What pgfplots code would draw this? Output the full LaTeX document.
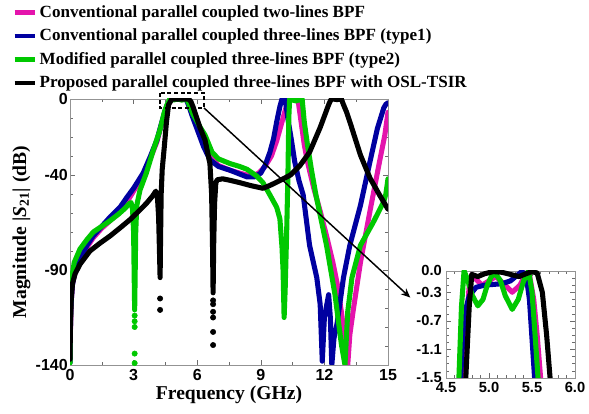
\documentclass[border=0pt]{standalone}
\usepackage{pgfplots}
\pgfplotsset{compat=1.18}
\usepackage{pgfplotstable}
\usetikzlibrary{arrows.meta}
\usepackage{fontspec}
\setmainfont{Liberation Serif}
\newfontfamily\tickfont{Liberation Sans}

\definecolor{cpink}{RGB}{228,20,172}
\definecolor{cblue}{RGB}{0,0,160}
\definecolor{cgreen}{RGB}{0,200,0}

% |S21| of the four filters: frequency (GHz), magnitude (dB)
\pgfplotstableread{
f db
0 -138
0.02 -122
0.06 -106
0.12 -97
0.25 -91
0.47 -85
0.8 -78
1.1 -73
1.5 -68
1.9 -64
2.36 -59
2.7 -54
3.0 -48.5
3.45 -40
3.8 -31
4.1 -22.5
4.3 -14
4.5 -6
4.62 -3
4.71 -1.5
4.74 -0.7
4.77 -0.2
4.8 -0.05
4.85 -0.12
4.92 -0.2
5.0 -0.14
5.08 -0.08
5.17 -0.18
5.27 -0.3
5.36 -0.2
5.43 -0.03
5.47 -0.05
5.52 -0.4
5.56 -0.9
5.6 -1.5
5.7 -3.5
5.85 -8
6.1 -15
6.4 -24
6.7 -31
7.0 -35
7.55 -37.5
8.0 -39
8.35 -40
8.6 -40.5
8.9 -39
9.2 -35.5
9.5 -30
9.75 -22
9.95 -14
10.15 -6
10.3 -1
10.4 0
10.6 -0.5
10.75 0
10.9 -12
11.05 -24
11.2 -33
11.5 -47
11.8 -59
12.1 -72
12.4 -86
12.6 -97
12.8 -112
12.95 -125
13.1 -140
13.2 -124
13.35 -112
13.7 -86
14.15 -59
14.6 -33
14.85 -19
15 -7
}\twolines

\pgfplotstableread{
f db
0 -139
0.01 -126
0.04 -110
0.1 -99
0.2 -92
0.47 -84
0.8 -77
1.1 -72
1.5 -67
1.9 -62
2.36 -57
2.7 -51.5
3.0 -47
3.45 -39
3.8 -30
4.1 -21.6
4.3 -13.5
4.5 -5.5
4.6 -2.8
4.67 -1.5
4.71 -0.63
4.77 -0.35
4.85 -0.23
4.95 -0.2
5.05 -0.19
5.15 -0.18
5.25 -0.14
5.32 -0.07
5.38 -0.01
5.43 -0.05
5.47 -0.4
5.5 -0.95
5.53 -1.5
5.6 -3.5
5.75 -8.5
6.0 -16
6.3 -25
6.6 -32
7.0 -35.5
7.55 -37.5
8.0 -39.5
8.35 -41
8.7 -41
9.0 -39
9.2 -35
9.43 -28
9.6 -21
9.75 -12
9.9 -4
10.0 0
10.15 0
10.3 -12
10.45 -22
10.6 -33
10.8 -43
11.0 -50.5
11.3 -77
11.64 -94
11.8 -108
11.9 -138
12.0 -115
12.2 -103
12.28 -115
12.35 -140
12.45 -126
12.6 -118
12.9 -94
13.2 -77
13.7 -56
14.15 -33
14.5 -15.5
14.8 -4.7
14.9 -2.8
15 -2
}\typeone

\pgfplotstableread{
f db
0 -139
0.01 -121
0.04 -103
0.1 -93
0.2 -86
0.47 -79
0.8 -74
1.1 -70
1.5 -67
1.9 -64
2.3 -60.5
2.6 -57.5
2.8 -55
2.88 -54.5
2.95 -58
3.0 -70
3.03 -95
3.05 -111
3.07 -95
3.1 -70
3.15 -56
3.3 -48
3.6 -39
3.9 -28
4.25 -16
4.45 -7
4.57 -3.2
4.62 -2
4.65 -1.5
4.68 -0.5
4.71 0
4.75 -0.12
4.8 -0.33
4.87 -0.49
4.93 -0.4
4.98 -0.2
5.03 -0.07
5.08 -0.05
5.13 -0.13
5.19 -0.35
5.27 -0.54
5.34 -0.4
5.4 -0.15
5.46 0
5.5 -0.3
5.53 -0.8
5.57 -1.5
5.65 -4
5.8 -8
6.0 -12
6.13 -14.7
6.37 -19
6.7 -28
7.0 -31.5
7.55 -34
8.0 -35.5
8.35 -37
8.8 -40.5
9.1 -44
9.43 -50.5
9.75 -57
9.9 -63
10.0 -78
10.05 -90
10.1 -115
10.15 -100
10.22 -70
10.28 -40
10.32 -10
10.36 0
10.65 -1
10.95 0
11.05 -12
11.2 -24
11.4 -38
11.6 -50.5
12.1 -77
12.5 -103
12.8 -129
12.97 -140
13.1 -112
13.3 -94
13.7 -77
14.3 -65
14.8 -54
14.9 -50
15 -42
}\typetwo

\pgfplotstableread{
f db
0 -137
0.02 -120
0.06 -105
0.12 -97
0.24 -92
0.47 -87
0.94 -80
1.4 -76
1.9 -72
2.4 -67.5
2.83 -63.5
3.2 -59.5
3.6 -55
3.9 -51
4.05 -48.5
4.12 -51
4.18 -62
4.22 -80
4.25 -94
4.27 -75
4.3 -50
4.35 -37
4.45 -25
4.55 -12
4.65 -3
4.73 -1.5
4.77 -0.5
4.8 -0.05
4.87 -0.08
4.95 -0.04
5.05 -0.01
5.15 -0.02
5.25 -0.05
5.35 -0.08
5.43 -0.04
5.5 -0.01
5.56 -0.03
5.62 -0.3
5.67 -0.9
5.71 -1.5
5.8 -4
5.95 -9
6.13 -15
6.37 -21.6
6.6 -34
6.68 -50
6.72 -75
6.75 -102
6.78 -75
6.82 -55
6.88 -44
6.95 -42.5
7.2 -42
7.55 -42.8
8.0 -44
8.5 -45.5
9.1 -47
9.43 -45.5
9.8 -43.5
10.4 -40
10.85 -35
11.3 -28
11.8 -15
12.0 -9
12.2 -3
12.3 -0.5
12.4 0
12.6 -0.3
12.8 0
12.9 -3
13.05 -7
13.2 -12
13.7 -29.5
14.15 -41.6
14.6 -50.5
15 -58
}\proposed

% sparse samples at the bottom of the deep transmission zeros
\pgfplotstableread{
f db
3.05 -114
3.05 -117
3.05 -120
3.05 -134
3.05 -139
}\typetwozeros

\pgfplotstableread{
f db
4.25 -105
4.25 -111
6.75 -106
6.75 -108
6.75 -112
6.75 -115
6.75 -122.6
6.75 -129.5
}\proposedzeros

\pgfplotsset{
  curve/.style={line width=3.8pt, line join=round, line cap=round},
  zeros/.style={only marks, mark=*, mark size=2pt, forget plot},
  frame/.style={
    scale only axis,
    tick align=inside,
    major tick length=4pt, minor tick length=2.5pt,
    axis line style={gray!85},
    tick style={gray!85!black},
    ticklabel style={font=\tickfont\bfseries\fontsize{12}{13}\selectfont},
    yticklabel style={inner xsep=1.5pt},
    /pgf/number format/assume math mode=true,
  },
}

\begin{document}
\begin{tikzpicture}
\path[use as bounding box] (0,0) rectangle (441.75pt,310.5pt);

% full-band response
\begin{axis}[
  frame,
  at={(52.5pt,36.75pt)}, anchor=south west,
  width=238.5pt, height=199.5pt,
  xmin=0, xmax=15, ymin=-140, ymax=0,
  xtick={0,3,...,15}, minor xtick={1.5,4.5,...,13.5},
  ytick={-140,-90,-40,0}, minor ytick={-130,-120,...,-10},
  xlabel={\bfseries Frequency (GHz)},
  ylabel={\bfseries Magnitude |\textit{S}\textsubscript{21}| (dB)},
  label style={font=\fontsize{14.7}{16}\selectfont},
  xlabel style={yshift=3pt},
  ylabel style={yshift=-1pt},
  legend style={at={(-0.182,1.362)}, anchor=north west, draw=none, fill=none,
    font=\bfseries\fontsize{12.8}{14.5}\selectfont, row sep=3.2pt, inner sep=0pt,
    cells={anchor=west}},
  legend image code/.code={\draw[#1, line width=3.5pt, line cap=butt] (0pt,0pt) -- (15pt,0pt);},
]
\addplot[curve, cpink] table[x=f, y=db] {\twolines};
\addlegendentry{Conventional parallel coupled two-lines BPF}
\addplot[curve, cblue] table[x=f, y=db] {\typeone};
\addlegendentry{Conventional parallel coupled three-lines BPF (type1)}
\addplot[curve, cgreen] table[x=f, y=db] {\typetwo};
\addlegendentry{Modified parallel coupled three-lines BPF (type2)}
\addplot[curve, black] table[x=f, y=db] {\proposed};
\addlegendentry{Proposed parallel coupled three-lines BPF with OSL-TSIR}
\addplot[zeros, cgreen] table[x=f, y=db] {\typetwozeros};
\addplot[zeros, black] table[x=f, y=db] {\proposedzeros};

\coordinate (boxA) at (axis cs:4.25,3.2);
\coordinate (boxB) at (axis cs:6.32,-4.7);
\coordinate (tip) at (axis cs:16.05,-104.5);
\end{axis}

\draw[black, line width=1.1pt, dash pattern=on 3pt off 2pt] (boxA) rectangle (boxB);
\draw[black, line width=1.1pt, -{Stealth[length=7pt, width=6pt]}] (boxB) -- (tip);

% passband detail
\begin{axis}[
  frame,
  at={(334.5pt,27pt)}, anchor=south west,
  width=96.75pt, height=80.25pt,
  xmin=4.5, xmax=6, ymin=-1.5, ymax=0,
  xtick={4.5,5,5.5,6}, minor x tick num=4,
  ytick={-1.5,-1.1,-0.7,-0.3,0}, minor ytick={-1.4,-1.3,...,-0.1},
  ticklabel style={font=\tickfont\bfseries\fontsize{11}{12}\selectfont},
  yticklabel style={inner xsep=3pt},
  xticklabel style={/pgf/number format/.cd, fixed, fixed zerofill, precision=1},
  yticklabel style={/pgf/number format/.cd, fixed, fixed zerofill, precision=1},
]
\addplot[curve, cpink] table[x=f, y=db] {\twolines};
\addplot[curve, cblue] table[x=f, y=db] {\typeone};
\addplot[curve, cgreen] table[x=f, y=db] {\typetwo};
\addplot[curve, black] table[x=f, y=db] {\proposed};
\end{axis}
\end{tikzpicture}
\end{document}
